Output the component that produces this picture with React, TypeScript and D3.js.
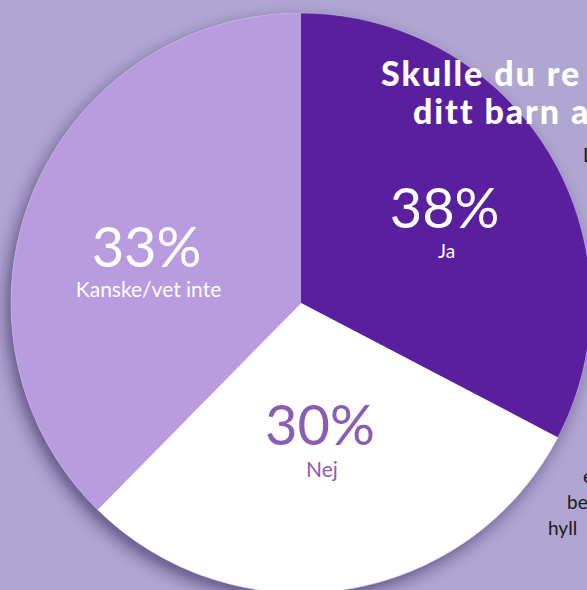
import React from "react";
import * as d3 from "d3";

// Slice shares as drawn in the picture (clockwise from 12 o'clock)
const categories = ["Ja", "Nej", "Kanske/vet inte"];
const sliceValues = [33, 30, 38];
// Percent texts as printed on the slices
const percentLabels = ["38%", "30%", "33%"];

const titleLines = ["Skulle du re", "ditt barn a"];
const sideTextTop = ["D"];
const sideTextBottom = ["e", "be", "hyll"];

const W = 587;
const H = 590;
const CX = 301;
const CY = 303;
const R = 290;

const sliceColors = ["#5a1f9e", "#ffffff", "#b99be0"];
const labelColors = ["#ffffff", "#8a5db5", "#ffffff"];
const labelOffsets: [number, number][] = [
  [11, 5],
  [-5, -11],
  [-11, 23],
];

export default function App() {
  const pie = d3
    .pie<number>()
    .sort(null)
    .startAngle(0)
    .endAngle(2 * Math.PI)
    .value((d) => d);
  const arcs = pie(sliceValues);
  const arc = d3.arc<d3.PieArcDatum<number>>().innerRadius(0).outerRadius(R);
  const labelArc = d3
    .arc<d3.PieArcDatum<number>>()
    .innerRadius(155)
    .outerRadius(155);

  const font = "Lato, 'Open Sans', sans-serif";

  return (
    <svg
      width={W}
      height={H}
      viewBox={`0 0 ${W} ${H}`}
      style={{ position: "absolute", left: 0, top: 0, display: "block" }}
    >
      <defs>
        <filter id="shadow" x="-20%" y="-20%" width="140%" height="140%">
          <feDropShadow
            dx={-5}
            dy={7}
            stdDeviation={8}
            floodColor="#2e1f55"
            floodOpacity={0.6}
          />
        </filter>
      </defs>
      <rect x={0} y={0} width={W} height={H} fill="#afa6d1" />
      <g transform={`translate(${CX},${CY})`}>
        <circle r={R} fill="#b99be0" filter="url(#shadow)" />
        {arcs.map((a, i) => (
          <path key={categories[i]} d={arc(a) || ""} fill={sliceColors[i]} />
        ))}
        <circle r={R} fill="none" stroke="#d9cde8" strokeWidth={0.8} opacity={0.6} />
      </g>
      <g
        fontFamily={font}
        fill="#ffffff"
        fontWeight={900}
        fontSize={34}
        letterSpacing={1.9}
      >
        <text x={381} y={86}>{titleLines[0]}</text>
        <text x={413} y={124}>{titleLines[1]}</text>
      </g>
      <g fontFamily={font} fill="#1a1a1a" fontSize={19}>
        <text x={583} y={162}>{sideTextTop[0]}</text>
        {sideTextBottom.map((t, i) => (
          <text key={t} x={[583, 567, 548][i]} y={483 + i * 26}>
            {t}
          </text>
        ))}
      </g>
      {arcs.map((a, i) => {
        const [lx, ly] = labelArc.centroid(a);
        const x = CX + lx + labelOffsets[i][0];
        const y = CY + ly + labelOffsets[i][1];
        return (
          <g
            key={"lbl" + i}
            fontFamily={font}
            fill={labelColors[i]}
            textAnchor="middle"
          >
            <text x={x} y={y} fontSize={56}>
              {percentLabels[i]}
            </text>
            <text x={x + 2} y={y + (i === 1 ? 32 : 30)} fontSize={i === 0 ? 19 : 21}>
              {categories[i]}
            </text>
          </g>
        );
      })}
    </svg>
  );
}
